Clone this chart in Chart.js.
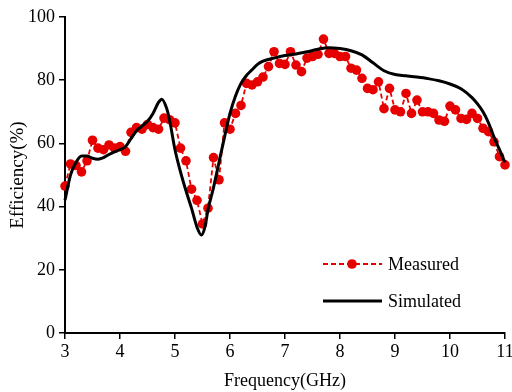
<!DOCTYPE html>
<html><head><meta charset="utf-8">
<script src="https://cdn.jsdelivr.net/npm/chart.js@4.4.1/dist/chart.umd.min.js"></script>
<style>html,body{margin:0;padding:0;background:#fff;}canvas{display:block;}</style>
</head><body>
<canvas id="c" width="512" height="392"></canvas>
<script>
// Measured efficiency (%) at 0.1 GHz steps from 3.0 to 11.0 GHz
const measuredFreq = [3.0,3.1,3.2,3.3,3.4,3.5,3.6,3.7,3.8,3.9,4.0,4.1,4.2,4.3,4.4,4.5,4.6,4.7,4.8,4.9,
  5.0,5.1,5.2,5.3,5.4,5.5,5.6,5.7,5.8,5.9,6.0,6.1,6.2,6.3,6.4,6.5,6.6,6.7,6.8,6.9,
  7.0,7.1,7.2,7.3,7.4,7.5,7.6,7.7,7.8,7.9,8.0,8.1,8.2,8.3,8.4,8.5,8.6,8.7,8.8,8.9,
  9.0,9.1,9.2,9.3,9.4,9.5,9.6,9.7,9.8,9.9,10.0,10.1,10.2,10.3,10.4,10.5,10.6,10.7,10.8,10.9,11.0];
const measuredEff = [46.5,53.5,53,51,54.5,61,58.5,58,59.5,58.5,59,57.5,63.5,65,64.5,66,65,64.5,68,67.5,
  66.5,58.5,54.5,45.5,42,34.5,39.5,55.5,48.5,66.5,64.5,69.5,72,79,78.5,79.5,81,84.3,89,85.3,
  85,89,84.8,82.7,87,87.5,88.2,93,88.5,88.5,87.5,87.5,83.8,83.2,80.6,77.4,77,79.5,71,77.4,
  70.6,70,75.8,69.5,73.7,70,70,69.5,67.4,67,71.8,70.6,67.9,67.6,69.5,67.9,64.8,63.7,60.5,55.8,53.2];
// Simulated efficiency (%)
const simFreq = [3.0,3.1,3.2,3.3,3.4,3.5,3.6,3.7,3.8,3.9,4.0,4.1,4.2,4.3,4.4,4.5,4.6,4.7,4.76,4.85,4.9,
  5.0,5.1,5.2,5.3,5.4,5.48,5.55,5.6,5.7,5.8,5.9,6.0,6.1,6.2,6.3,6.4,6.5,6.6,6.8,
  7.0,7.2,7.4,7.6,7.8,8.0,8.2,8.4,8.6,8.8,9.0,9.2,9.4,9.6,9.8,10.0,10.2,10.4,10.5,10.6,10.7,10.8,10.9,11.0];
const simEff = [42,50,54,56,56,55.3,55,55.5,56.5,57.3,58,59,61.5,64,65.5,67,69.5,73,74,71,67.5,
  58,51,45,39.5,33.5,31,34,39,46,54,62,69.5,75,79,81.5,83.3,85,86,87,
  87.8,88.3,89,89.8,90.3,90,89.3,88,85.5,83,81.8,81.4,81,80.5,79.8,78.8,77.3,74.5,72.5,70,66.5,62,58,54];
const xTicks = [3,4,5,6,7,8,9,10,11];
const yTicks = [0,20,40,60,80,100];
const seriesNames = ['Measured','Simulated'];

const RED = 'rgb(230,0,0)';
const FONT = 'Liberation Serif';

const legendPlugin = {
  id: 'customLegend',
  afterDraw(chart) {
    const ctx = chart.ctx;
    ctx.save();
    // Measured
    ctx.strokeStyle = RED; ctx.lineWidth = 2; ctx.setLineDash([5,3]);
    ctx.beginPath(); ctx.moveTo(323,264); ctx.lineTo(382,264); ctx.stroke();
    ctx.setLineDash([]);
    ctx.fillStyle = RED; ctx.beginPath(); ctx.arc(352,264,4.8,0,Math.PI*2); ctx.fill();
    // Simulated
    ctx.strokeStyle = '#000'; ctx.lineWidth = 3;
    ctx.beginPath(); ctx.moveTo(323,301); ctx.lineTo(382,301); ctx.stroke();
    ctx.fillStyle = '#000'; ctx.font = '18px "' + FONT + '"'; ctx.textBaseline = 'middle';
    ctx.fillText(seriesNames[0], 388, 265);
    ctx.fillText(seriesNames[1], 388, 302);
    ctx.restore();
  }
};

new Chart(document.getElementById('c'), {
  type: 'line',
  data: {
    datasets: [
      {
        label: seriesNames[0],
        data: measuredFreq.map((f,i)=>({x:f,y:measuredEff[i]})),
        borderColor: RED, backgroundColor: RED, borderWidth: 1.8,
        borderDash: [5,3], pointRadius: 4.8, pointBorderWidth: 0,
        pointBackgroundColor: RED, tension: 0, clip: false, order: 1
      },
      {
        label: seriesNames[1],
        data: simFreq.map((f,i)=>({x:f,y:simEff[i]})),
        borderColor: '#000', backgroundColor: '#000', borderWidth: 3,
        pointRadius: 0, cubicInterpolationMode: 'monotone', clip: false, order: 0
      }
    ]
  },
  options: {
    responsive: false, animation: false,
    layout: { padding: { left: 0, right: 7, top: 17, bottom: 0 } },
    plugins: { legend: { display: false }, tooltip: { enabled: false } },
    scales: {
      x: {
        type: 'linear', min: 3, max: 11,
        afterBuildTicks: s => { s.ticks = xTicks.map(v=>({value:v})); },
        afterFit: s => { s.height = 59; s.paddingLeft = 0; s.paddingRight = 0; },
        border: { color: '#000', width: 2 },
        grid: { display: true, drawOnChartArea: false, drawTicks: true, tickLength: 6, color: '#000', lineWidth: 1.5 },
        ticks: { color: '#000', font: { family: FONT, size: 18 }, padding: 2, maxRotation: 0 },
        title: { display: true, text: 'Frequency(GHz)', color: '#000', font: { family: FONT, size: 18 }, padding: { top: 0, bottom: 0 } }
      },
      y: {
        min: 0, max: 100,
        afterBuildTicks: s => { s.ticks = yTicks.map(v=>({value:v})); },
        afterFit: s => { s.width = 65; s.paddingTop = 0; s.paddingBottom = 0; },
        border: { color: '#000', width: 2 },
        grid: { display: true, drawOnChartArea: false, drawTicks: true, tickLength: 6, color: '#000', lineWidth: 1.5 },
        ticks: { color: '#000', font: { family: FONT, size: 18 }, padding: 4 },
        title: { display: true, text: 'Efficiency(%)', color: '#000', font: { family: FONT, size: 19 }, padding: { top: 7, bottom: 0 } }
      }
    }
  },
  plugins: [legendPlugin]
});
</script>
</body></html>
